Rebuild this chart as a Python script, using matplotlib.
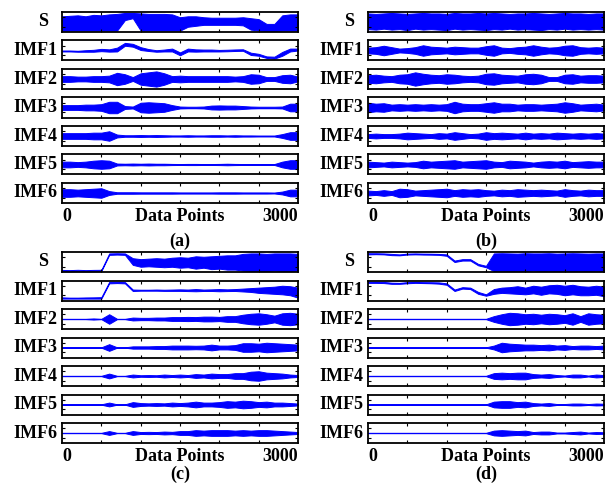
import matplotlib
matplotlib.use("Agg")
import matplotlib.pyplot as plt

# sample positions (every 100 data points)
points = list(range(0, 3001, 100))

names = ["S", "IMF1", "IMF2", "IMF3", "IMF4", "IMF5", "IMF6"]

# ---- panel (a) ----
a_s_hi = [0.6, 0.65, 0.7, 0.6, 0.75, 0.7, 0.8, 0.85, 0.95, 0.95, 0.9, 0.85, 0.85, 0.85, 0.8, 0.5,
          0.6, 0.6, 0.5, 0.45, 0.45, 0.45, 0.45, 0.5, 0.4, 0.3, -0.2, -0.2, 0.7, 0.8, 0.8]
a_s_lo = [-0.9, -0.9, -0.9, -0.9, -0.9, -0.9, -0.9, -0.9, 0.2, 0.4, -0.9, -0.9, -0.9, -0.9, -0.9, -0.9,
          -0.5, -0.4, -0.3, -0.3, -0.3, -0.3, -0.3, -0.35, -0.8, -0.9, -0.95, -0.95, -0.9, -0.9, -0.9]
a_imf1_hi = [0.0, 0.0, -0.03, 0.03, 0.07, 0.17, 0.12, 0.3, 0.8, 0.7, 0.35, 0.15, 0.03, 0.1, 0.2, -0.2,
             0.2, 0.12, 0.1, 0.1, 0.06, 0.08, 0.11, 0.13, -0.23, -0.35, -0.62, -0.65, -0.15, 0.2, 0.2]
a_imf1_lo = [-0.1, -0.1, -0.13, -0.13, -0.13, -0.07, -0.12, -0.1, 0.5, 0.4, 0.05, -0.05, -0.13, -0.1, -0.1, -0.5,
             -0.1, -0.12, -0.1, -0.1, -0.1, -0.08, -0.05, -0.03, -0.47, -0.55, -0.78, -0.85, -0.55, -0.1, 0.0]
a_imf2 = [0.3, 0.3, 0.25, 0.25, 0.3, 0.3, 0.35, 0.65, 0.5, 0.2, 0.6, 0.7, 0.8, 0.6, 0.3, 0.35,
          0.3, 0.3, 0.3, 0.3, 0.3, 0.3, 0.25, 0.3, 0.5, 0.45, 0.2, 0.2, 0.4, 0.45, 0.25]
a_imf3 = [0.25, 0.25, 0.25, 0.3, 0.3, 0.35, 0.6, 0.6, 0.15, 0.1, 0.5, 0.55, 0.5, 0.45, 0.25, 0.1,
          0.08, 0.08, 0.1, 0.2, 0.22, 0.2, 0.2, 0.15, 0.1, 0.08, 0.08, 0.08, 0.1, 0.4, 0.4]
a_imf4 = [0.3, 0.3, 0.3, 0.3, 0.35, 0.35, 0.5, 0.15, 0.08, 0.08, 0.1, 0.08, 0.1, 0.08, 0.06, 0.06,
          0.08, 0.06, 0.06, 0.08, 0.08, 0.06, 0.08, 0.06, 0.06, 0.05, 0.05, 0.05, 0.2, 0.4, 0.4]
a_imf5 = [0.3, 0.3, 0.25, 0.3, 0.4, 0.45, 0.4, 0.1, 0.08, 0.1, 0.08, 0.1, 0.08, 0.08, 0.06, 0.05,
          0.06, 0.06, 0.05, 0.05, 0.06, 0.08, 0.06, 0.05, 0.05, 0.05, 0.05, 0.05, 0.3, 0.45, 0.45]
a_imf6 = [0.4, 0.4, 0.35, 0.4, 0.45, 0.5, 0.2, 0.08, 0.08, 0.08, 0.07, 0.07, 0.07, 0.07, 0.07, 0.06,
          0.06, 0.06, 0.06, 0.06, 0.07, 0.07, 0.07, 0.06, 0.06, 0.06, 0.06, 0.05, 0.15, 0.35, 0.35]

# ---- panel (b) ----
b_s_hi = [0.9, 0.85, 0.9, 0.95, 0.9, 0.85, 0.9, 0.95, 0.9, 0.9, 0.85, 0.95, 0.9, 0.9, 0.95, 0.9,
          0.95, 0.9, 0.85, 0.9, 0.9, 0.95, 0.9, 0.85, 0.9, 0.95, 0.9, 0.9, 0.85, 0.9, 0.9]
b_s_lo = [-0.75, -0.8, -0.7, -0.8, -0.75, -0.85, -0.7, -0.8, -0.75, -0.8, -0.85, -0.7, -0.8, -0.75, -0.8, -0.85,
          -0.75, -0.8, -0.7, -0.8, -0.75, -0.8, -0.85, -0.75, -0.8, -0.7, -0.8, -0.75, -0.8, -0.75, -0.8]
b_imf1 = [0.3, 0.35, 0.5, 0.35, 0.2, 0.25, 0.35, 0.55, 0.4, 0.35, 0.3, 0.4, 0.35, 0.3, 0.3, 0.45,
          0.55, 0.3, 0.25, 0.35, 0.4, 0.55, 0.4, 0.3, 0.35, 0.5, 0.55, 0.35, 0.3, 0.35, 0.3]
b_imf2 = [0.4, 0.45, 0.35, 0.3, 0.45, 0.5, 0.7, 0.55, 0.45, 0.4, 0.5, 0.45, 0.35, 0.3, 0.35, 0.55,
          0.6, 0.45, 0.4, 0.35, 0.5, 0.55, 0.45, 0.2, 0.2, 0.45, 0.5, 0.35, 0.4, 0.4, 0.35]
b_imf3 = [0.5, 0.4, 0.45, 0.3, 0.35, 0.3, 0.35, 0.3, 0.35, 0.3, 0.35, 0.6, 0.4, 0.35, 0.35, 0.45,
          0.55, 0.4, 0.4, 0.3, 0.35, 0.35, 0.3, 0.35, 0.4, 0.55, 0.45, 0.3, 0.35, 0.4, 0.3]
b_imf4 = [0.2, 0.25, 0.2, 0.2, 0.25, 0.35, 0.3, 0.25, 0.2, 0.3, 0.25, 0.4, 0.3, 0.2, 0.25, 0.4,
          0.3, 0.35, 0.3, 0.25, 0.35, 0.25, 0.3, 0.25, 0.35, 0.3, 0.25, 0.3, 0.25, 0.3, 0.25]
b_imf5 = [0.3, 0.25, 0.2, 0.3, 0.25, 0.2, 0.25, 0.4, 0.3, 0.35, 0.4, 0.45, 0.3, 0.35, 0.4, 0.45,
          0.3, 0.25, 0.4, 0.35, 0.3, 0.2, 0.3, 0.35, 0.3, 0.4, 0.25, 0.3, 0.35, 0.3, 0.3]
b_imf6 = [0.25, 0.2, 0.3, 0.2, 0.45, 0.4, 0.25, 0.3, 0.35, 0.4, 0.45, 0.3, 0.4, 0.35, 0.4, 0.3,
          0.25, 0.35, 0.3, 0.4, 0.35, 0.3, 0.35, 0.3, 0.25, 0.4, 0.3, 0.25, 0.35, 0.3, 0.3]

# ---- panel (c) ----
c_s_hi = [-0.83, -0.85, -0.82, -0.85, -0.83, -0.82, 0.9, 0.92, 0.9, 0.4, 0.3, 0.35, 0.4, 0.35, 0.45, 0.5,
          0.45, 0.6, 0.55, 0.6, 0.65, 0.7, 0.7, 0.85, 0.9, 0.9, 0.85, 0.9, 0.9, 0.9, 0.85]
c_s_lo = [-0.96, -0.97, -0.95, -0.97, -0.96, -0.95, 0.75, 0.78, 0.75, -0.3, -0.5, -0.45, -0.5, -0.55, -0.5, -0.6,
          -0.55, -0.7, -0.6, -0.75, -0.7, -0.8, -0.8, -0.9, -0.95, -0.95, -0.95, -0.9, -0.95, -0.95, -0.9]
c_imf1_hi = [-0.72, -0.75, -0.75, -0.73, -0.72, -0.7, 0.9, 0.9, 0.88, 0.1, 0.08, 0.08, 0.1, 0.08, 0.1, 0.12,
             0.1, 0.15, 0.1, 0.12, 0.15, 0.12, 0.15, 0.2, 0.25, 0.3, 0.35, 0.4, 0.5, 0.45, 0.3]
c_imf1_lo = [-0.85, -0.85, -0.85, -0.85, -0.85, -0.85, 0.75, 0.78, 0.75, -0.05, -0.02, -0.02, -0.02, -0.04, -0.04, -0.04,
             -0.06, -0.08, -0.05, -0.05, -0.08, -0.06, -0.05, -0.1, -0.15, -0.25, -0.3, -0.35, -0.4, -0.5, -0.75]
c_imf2 = [0.02, 0.02, 0.02, 0.02, 0.06, 0.02, 0.5, 0.02, 0.02, 0.15, 0.12, 0.12, 0.15, 0.15, 0.2, 0.2,
          0.22, 0.2, 0.25, 0.25, 0.22, 0.3, 0.3, 0.45, 0.55, 0.6, 0.5, 0.35, 0.6, 0.65, 0.55]
c_imf3 = [0.02, 0.02, 0.02, 0.02, 0.03, 0.02, 0.35, 0.02, 0.02, 0.12, 0.12, 0.12, 0.15, 0.15, 0.2, 0.2,
          0.2, 0.18, 0.2, 0.3, 0.2, 0.2, 0.25, 0.45, 0.45, 0.4, 0.5, 0.45, 0.4, 0.35, 0.3]
c_imf4 = [0.02, 0.02, 0.02, 0.02, 0.02, 0.02, 0.25, 0.02, 0.02, 0.15, 0.08, 0.1, 0.08, 0.15, 0.1, 0.15,
          0.1, 0.2, 0.15, 0.25, 0.2, 0.2, 0.3, 0.3, 0.45, 0.5, 0.35, 0.3, 0.25, 0.15, 0.1]
c_imf5 = [0.02, 0.02, 0.02, 0.02, 0.02, 0.02, 0.2, 0.02, 0.02, 0.25, 0.15, 0.12, 0.15, 0.12, 0.2, 0.15,
          0.2, 0.3, 0.2, 0.2, 0.25, 0.35, 0.3, 0.4, 0.35, 0.25, 0.3, 0.2, 0.2, 0.15, 0.1]
c_imf6 = [0.02, 0.02, 0.02, 0.02, 0.02, 0.02, 0.2, 0.02, 0.02, 0.2, 0.1, 0.12, 0.1, 0.15, 0.12, 0.2,
          0.2, 0.3, 0.25, 0.3, 0.3, 0.3, 0.25, 0.3, 0.25, 0.3, 0.3, 0.25, 0.2, 0.15, 0.1]

# ---- panel (d) ----
d_s_hi = [0.92, 0.92, 0.9, 0.85, 0.8, 0.88, 0.9, 0.88, 0.87, 0.85, 0.8, 0.15, 0.3, 0.3, -0.2, -0.4,
          0.9, 0.92, 0.9, 0.88, 0.92, 0.9, 0.9, 0.92, 0.88, 0.9, 0.92, 0.9, 0.88, 0.9, 0.9]
d_s_lo = [0.8, 0.82, 0.8, 0.72, 0.7, 0.78, 0.8, 0.78, 0.77, 0.75, 0.65, 0.0, 0.15, 0.15, -0.35, -0.55,
          -0.95, -0.92, -0.95, -0.93, -0.95, -0.9, -0.95, -0.93, -0.95, -0.92, -0.95, -0.93, -0.95, -0.92, -0.95]
d_imf1_hi = [0.92, 0.9, 0.9, 0.82, 0.8, 0.88, 0.9, 0.88, 0.87, 0.85, 0.75, 0.1, 0.35, 0.3, -0.15, -0.4,
             0.15, 0.3, 0.35, 0.45, 0.3, 0.5, 0.4, 0.55, 0.6, 0.5, 0.6, 0.45, 0.4, 0.5, 0.4]
d_imf1_lo = [0.8, 0.8, 0.78, 0.7, 0.7, 0.76, 0.8, 0.78, 0.76, 0.72, 0.6, -0.05, 0.2, 0.15, -0.35, -0.55,
             -0.35, -0.25, -0.3, -0.35, -0.4, -0.3, -0.45, -0.3, -0.35, -0.5, -0.4, -0.5, -0.5, -0.45, -0.6]
d_imf2 = [0.02, 0.02, 0.02, 0.02, 0.02, 0.02, 0.02, 0.02, 0.02, 0.02, 0.02, 0.02, 0.02, 0.02, 0.02, 0.02,
          0.3, 0.5, 0.65, 0.6, 0.5, 0.55, 0.45, 0.55, 0.5, 0.4, 0.6, 0.3, 0.6, 0.5, 0.45]
d_imf3 = [0.02, 0.02, 0.02, 0.02, 0.02, 0.02, 0.02, 0.02, 0.02, 0.02, 0.02, 0.02, 0.02, 0.02, 0.02, 0.02,
          0.2, 0.5, 0.4, 0.35, 0.3, 0.3, 0.25, 0.3, 0.2, 0.25, 0.15, 0.2, 0.2, 0.15, 0.2]
d_imf4 = [0.02, 0.02, 0.02, 0.02, 0.02, 0.02, 0.02, 0.02, 0.02, 0.02, 0.02, 0.02, 0.02, 0.02, 0.02, 0.02,
          0.3, 0.35, 0.3, 0.35, 0.35, 0.2, 0.15, 0.2, 0.1, 0.05, 0.15, 0.15, 0.05, 0.15, 0.1]
d_imf5 = [0.02, 0.02, 0.02, 0.02, 0.02, 0.02, 0.02, 0.02, 0.02, 0.02, 0.02, 0.02, 0.02, 0.02, 0.02, 0.02,
          0.3, 0.35, 0.35, 0.25, 0.3, 0.15, 0.1, 0.15, 0.05, 0.05, 0.1, 0.1, 0.05, 0.1, 0.08]
d_imf6 = [0.02, 0.02, 0.02, 0.02, 0.02, 0.02, 0.02, 0.02, 0.02, 0.02, 0.02, 0.02, 0.02, 0.02, 0.02, 0.02,
          0.25, 0.3, 0.25, 0.2, 0.25, 0.1, 0.15, 0.15, 0.05, 0.05, 0.1, 0.15, 0.05, 0.1, 0.08]

panels = {
    "(a)": [(a_s_hi, a_s_lo), (a_imf1_hi, a_imf1_lo), a_imf2, a_imf3, a_imf4, a_imf5, a_imf6],
    "(b)": [(b_s_hi, b_s_lo), b_imf1, b_imf2, b_imf3, b_imf4, b_imf5, b_imf6],
    "(c)": [(c_s_hi, c_s_lo), (c_imf1_hi, c_imf1_lo), c_imf2, c_imf3, c_imf4, c_imf5, c_imf6],
    "(d)": [(d_s_hi, d_s_lo), (d_imf1_hi, d_imf1_lo), d_imf2, d_imf3, d_imf4, d_imf5, d_imf6],
}

W, H = 613, 486
lefts = {"(a)": 62, "(b)": 368, "(c)": 62, "(d)": 368}
tops = {"(a)": 12, "(b)": 12, "(c)": 252, "(d)": 252}
tag_y = {"(a)": -1.9, "(b)": -1.9, "(c)": -1.55, "(d)": -1.55}
axw, axh, step = 236, 20, 28.5
blue = "#0000ff"
font = dict(family="Liberation Serif", weight="bold")

fig = plt.figure(figsize=(W / 100, H / 100), dpi=100)

for tag, sigs in panels.items():
    left = lefts[tag]
    for i, sig in enumerate(sigs):
        top = tops[tag] + step * i
        ax = fig.add_axes([left / W, 1 - (top + axh) / H, axw / W, axh / H])
        if isinstance(sig, tuple):
            hi, lo = sig
        else:
            hi = sig
            lo = [-v for v in sig]
            ax.plot([0, 3000], [0, 0], color=blue, lw=0.7)
        ax.fill_between(points, lo, hi, color=blue, lw=0.7, edgecolor=blue)
        ax.set_xlim(0, 3000)
        ax.set_ylim(-1.05, 1.05)
        ax.set_xticks(range(500, 3000, 500))
        ax.set_yticks([-0.5, 0.5])
        ax.tick_params(direction="in", length=2.5, width=0.8, top=True, right=True,
                       labelbottom=False, labelleft=False)
        for sp in ax.spines.values():
            sp.set_linewidth(1.3)
        xoff = -10 if names[i] == "S" else -3
        ax.annotate(names[i], xy=(0, 0.5), xycoords="axes fraction", xytext=(xoff, 0),
                    textcoords="offset points", ha="right", va="center", fontsize=13, **font)
        if i == 6:
            ax.text(0.0, -0.65, "0", transform=ax.transAxes, ha="left", va="center", fontsize=13, **font)
            ax.text(1.0, -0.65, "3000", transform=ax.transAxes, ha="right", va="center", fontsize=13, **font)
            ax.text(0.5, -0.65, "Data Points", transform=ax.transAxes, ha="center", va="center",
                    fontsize=13, **font)
            ax.text(0.5, tag_y[tag], tag, transform=ax.transAxes, ha="center", va="center",
                    fontsize=13, **font)

fig.savefig("out.png", dpi=100)
